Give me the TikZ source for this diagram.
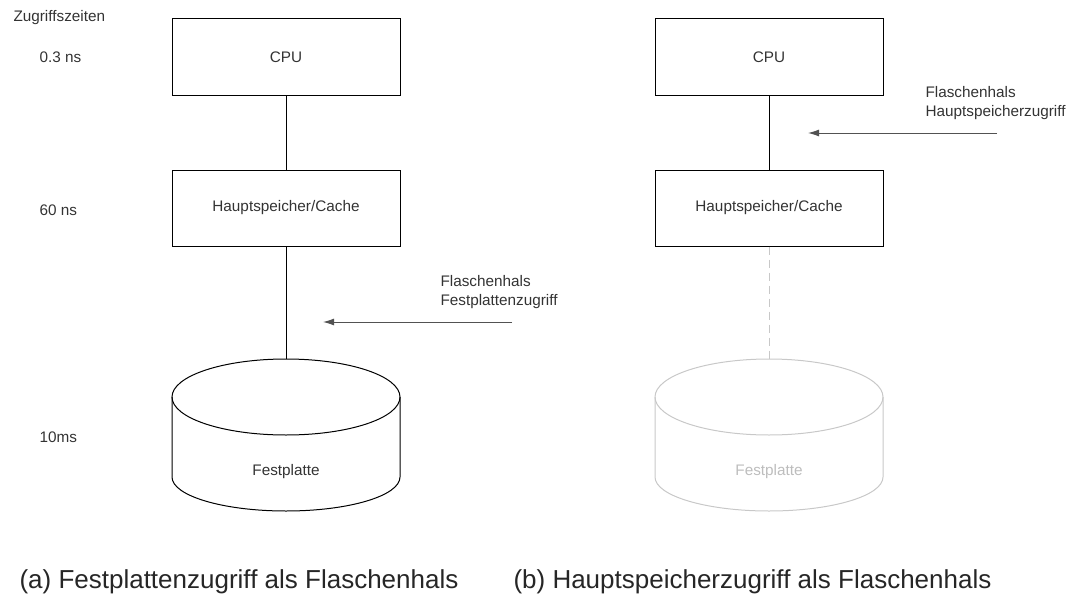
\documentclass[tikz,border=0pt]{standalone}
\usepackage{fontspec}
\setmainfont{Liberation Sans}
\usetikzlibrary{arrows.meta}
\definecolor{ink}{HTML}{333333}
\definecolor{faded}{HTML}{C8C8C8}
\definecolor{fadedtxt}{HTML}{BDBDBD}
\begin{document}
\begin{tikzpicture}[x=1pt,y=-1pt,
  every node/.style={text=ink, font=\fontsize{15.3}{19}\selectfont},
  box/.style={draw=black, line width=1pt, minimum height=76, inner sep=0},
  wire/.style={draw=black, line width=1pt},
  hint/.style={draw=ink!85, line width=1pt, -{Latex[length=11pt,width=7pt]}},
  fadedwire/.style={draw=faded, line width=1pt, dash pattern=on 8pt off 5pt},
  caption/.style={anchor=base west, text=black!85, font=\fontsize{26}{30}\selectfont}]
\useasboundingbox (0,0) rectangle (1075,594);

% access-time scale on the left
\node[anchor=west] (tHead) at (10,18) {Zugriffszeiten};
\node[anchor=west] (tCpu)  at (36,57) {0.3 ns};
\node[anchor=west] (tRam)  at (36,210) {60 ns};
\node[anchor=west] (tDisk) at (36,437) {10ms};

% ---- (a) disk access is the bottleneck
\node[box, minimum width=228] (cpuA) at (286,57) {CPU};
\node[box, minimum width=228] (ramA) at (286,208) {Hauptspeicher/Cache};
\coordinate (diskTopA) at (286,359);
\draw[line width=1pt] (286,397) ellipse[x radius=114, y radius=38];
\draw[line width=1pt] (172,397) -- (172,477)
  arc[start angle=180, end angle=0, x radius=114, y radius=34] -- (400,397);
\node (diskA) at (286,472) {Festplatte};
\draw[wire] (cpuA) -- (ramA);
\draw[wire] (ramA.south) -- (diskTopA);

\node[anchor=west, align=left] (noteA) at (437,292.5) {Flaschenhals\\Festplattenzugriff};
\coordinate (arrA0) at (512,322);
\coordinate (arrA1) at (323,322);
\draw[hint] (arrA0) -- (arrA1);

% ---- (b) main memory access is the bottleneck
\node[box, minimum width=228] (cpuB) at (769,57) {CPU};
\node[box, minimum width=228] (ramB) at (769,208) {Hauptspeicher/Cache};
\coordinate (diskTopB) at (769,359);
\draw[faded, line width=1pt] (769,397) ellipse[x radius=114, y radius=38];
\draw[faded, line width=1pt] (655,397) -- (655,477)
  arc[start angle=180, end angle=0, x radius=114, y radius=34] -- (883,397);
\node[text=fadedtxt] (diskB) at (769,472) {Festplatte};
\draw[wire] (cpuB) -- (ramB);
\draw[fadedwire] (ramB.south) -- (diskTopB);

\node[anchor=west, align=left] (noteB) at (922,103.5) {Flaschenhals\\Hauptspeicherzugriff};
\coordinate (arrB0) at (997,133);
\coordinate (arrB1) at (808,133);
\draw[hint] (arrB0) -- (arrB1);

% captions
\node[caption] (capA) at (16,588) {(a) Festplattenzugriff als Flaschenhals};
\node[caption] (capB) at (510,588) {(b) Hauptspeicherzugriff als Flaschenhals};
\end{tikzpicture}
\end{document}
